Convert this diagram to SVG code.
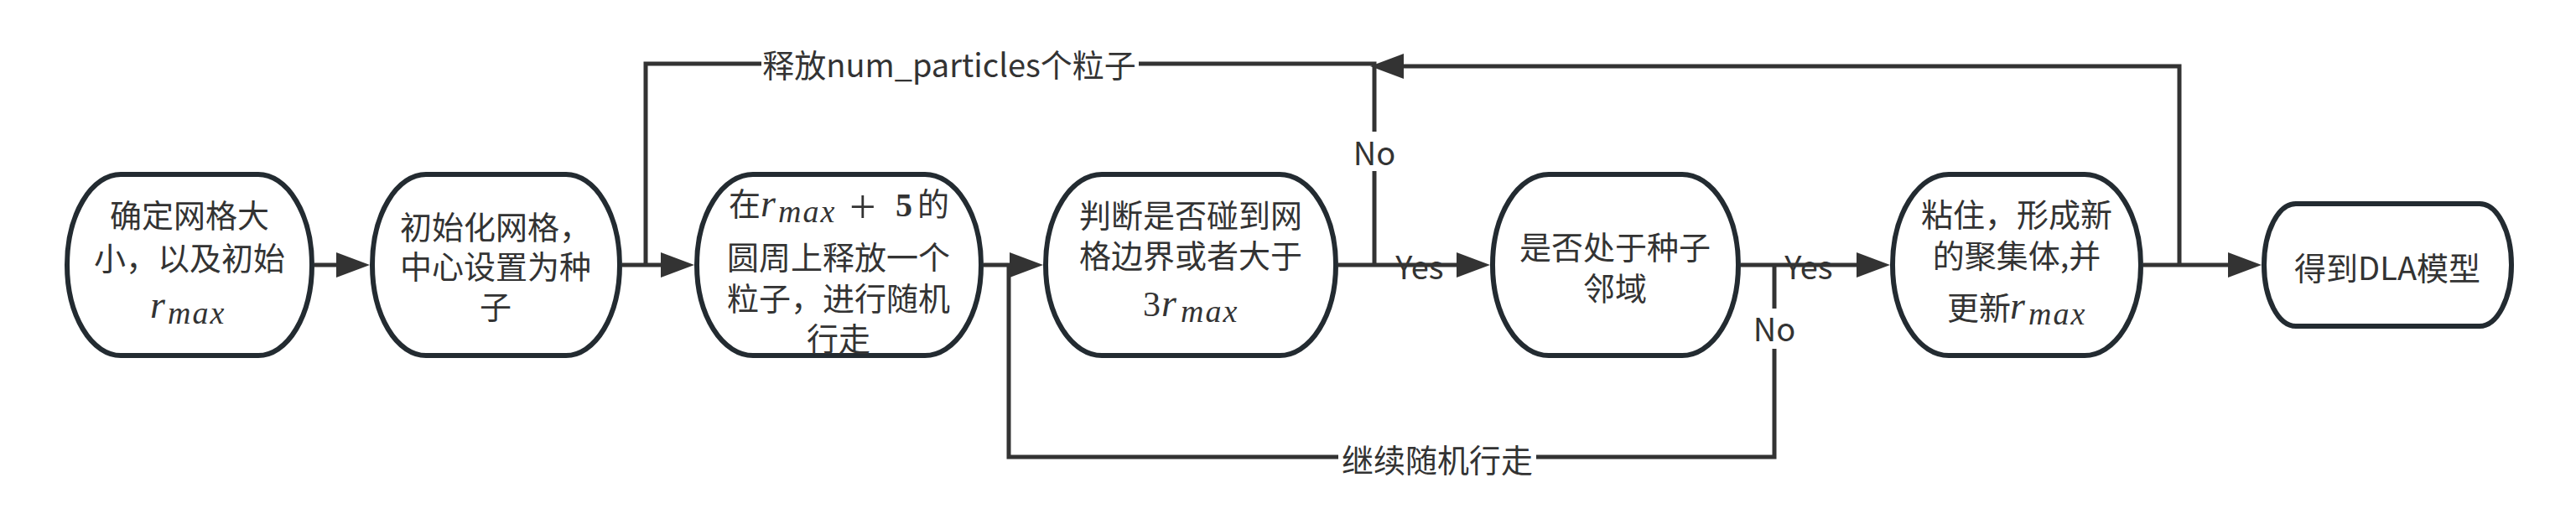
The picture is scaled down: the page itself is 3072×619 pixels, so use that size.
<svg xmlns="http://www.w3.org/2000/svg" width="3072" height="619" viewBox="0 0 3072 619">
<style>
.node{fill:#ffffff;stroke:#232b31;stroke-width:6}
.t{font-family:"Noto Sans CJK SC","Noto Sans",sans-serif;font-size:38px;fill:#333333;text-anchor:middle}
.ts{font-family:"Noto Sans CJK SC","Noto Sans",sans-serif;font-size:38px;fill:#333333}
.mi{font-family:"Liberation Serif",serif;font-style:italic;fill:#333333}
.mu{font-family:"Liberation Serif",serif;fill:#333333}
.c{fill:none;stroke:#333333;stroke-width:5}
.bg{fill:#ffffff}
</style>
<defs>
<marker id="ah" viewBox="0 0 40 30" refX="10" refY="15" markerWidth="40" markerHeight="30" orient="auto" markerUnits="userSpaceOnUse">
<path d="M0,0 L40,15 L0,30 Z" fill="#333333"/>
</marker>
</defs>
<rect width="3072" height="619" fill="#ffffff"/>
<g id="connectors">
<path class="c" d="M1639,316 V76 H770 V316"/>
<path class="c" d="M2116,316 V545 H1203 V316"/>
<path class="c" d="M375,316 H411" marker-end="url(#ah)"/>
<path class="c" d="M742,316 H798" marker-end="url(#ah)"/>
<path class="c" d="M1173,316 H1214" marker-end="url(#ah)"/>
<path class="c" d="M1596,316 H1747" marker-end="url(#ah)"/>
<path class="c" d="M2076,316 H2224" marker-end="url(#ah)"/>
<path class="c" d="M2556,316 H2667" marker-end="url(#ah)"/>
<path class="c" d="M2599,316 V79 H1664" marker-end="url(#ah)"/>
<rect class="bg" x="908" y="58" width="450" height="44"/>
<text class="t" x="1132" y="92">释放num_particles个粒子</text>
<rect class="bg" x="1619" y="157" width="40" height="47"/>
<text class="t" x="1639" y="197">No</text>
<text class="t" x="1693" y="333">Yes</text>
<text class="t" x="2157" y="333">Yes</text>
<rect class="bg" x="2096" y="368" width="40" height="48"/>
<text class="t" x="2116" y="407">No</text>
<rect class="bg" x="1596" y="528" width="236" height="42"/>
<text class="t" x="1714" y="563">继续随机行走</text>
</g>
<g id="n1">
<rect class="node" x="80" y="208" width="292" height="216" rx="64" ry="108"/>
<text class="t" x="226" y="271">确定网格大</text>
<text class="t" x="226" y="322">小，以及初始</text>
<text><tspan class="mi" x="179" y="379" font-size="46">r</tspan><tspan class="mi" x="200" y="386" font-size="38" letter-spacing="2">max</tspan></text>
</g>
<g id="n2">
<rect class="node" x="444" y="208" width="295" height="216" rx="64" ry="108"/>
<text class="t" x="591" y="285">初始化网格，</text>
<text class="t" x="591" y="332">中心设置为种</text>
<text class="t" x="591" y="380">子</text>
</g>
<g id="n3">
<rect class="node" x="831" y="208" width="339" height="216" rx="67" ry="108"/>
<text><tspan class="ts" x="869" y="257">在</tspan><tspan class="mi" x="907" y="258" font-size="46">r</tspan><tspan class="mi" x="928" y="265" font-size="38" letter-spacing="2">max</tspan><tspan class="mu" x="1013" y="266" font-size="56">+</tspan><tspan class="mu" x="1068" y="258" font-size="40" font-weight="bold">5</tspan><tspan class="ts" x="1094" y="257">的</tspan></text>
<text class="t" x="1000" y="321">圆周上释放一个</text>
<text class="t" x="1000" y="370">粒子，进行随机</text>
<text class="t" x="1000" y="418">行走</text>
</g>
<g id="n4">
<rect class="node" x="1247" y="208" width="346" height="216" rx="67" ry="108"/>
<text class="t" x="1420" y="271">判断是否碰到网</text>
<text class="t" x="1420" y="319">格边界或者大于</text>
<text><tspan class="mu" x="1363" y="377" font-size="42">3</tspan><tspan class="mi" x="1385" y="377" font-size="46">r</tspan><tspan class="mi" x="1408" y="384" font-size="38" letter-spacing="2">max</tspan></text>
</g>
<g id="n5">
<rect class="node" x="1780" y="208" width="293" height="216" rx="67" ry="108"/>
<text class="t" x="1926" y="309">是否处于种子</text>
<text class="t" x="1926" y="358">邻域</text>
</g>
<g id="n6">
<rect class="node" x="2257" y="208" width="296" height="216" rx="67" ry="108"/>
<text class="t" x="2405" y="270">粘住，形成新</text>
<text class="t" x="2405" y="319">的聚集体,并</text>
<text><tspan class="ts" x="2322" y="381">更新</tspan><tspan class="mi" x="2397" y="380" font-size="46">r</tspan><tspan class="mi" x="2419" y="387" font-size="38" letter-spacing="2">max</tspan></text>
</g>
<g id="n7">
<rect class="node" x="2700" y="243" width="295" height="146" rx="38" ry="73"/>
<text class="t" x="2847" y="334">得到DLA模型</text>
</g>
</svg>
